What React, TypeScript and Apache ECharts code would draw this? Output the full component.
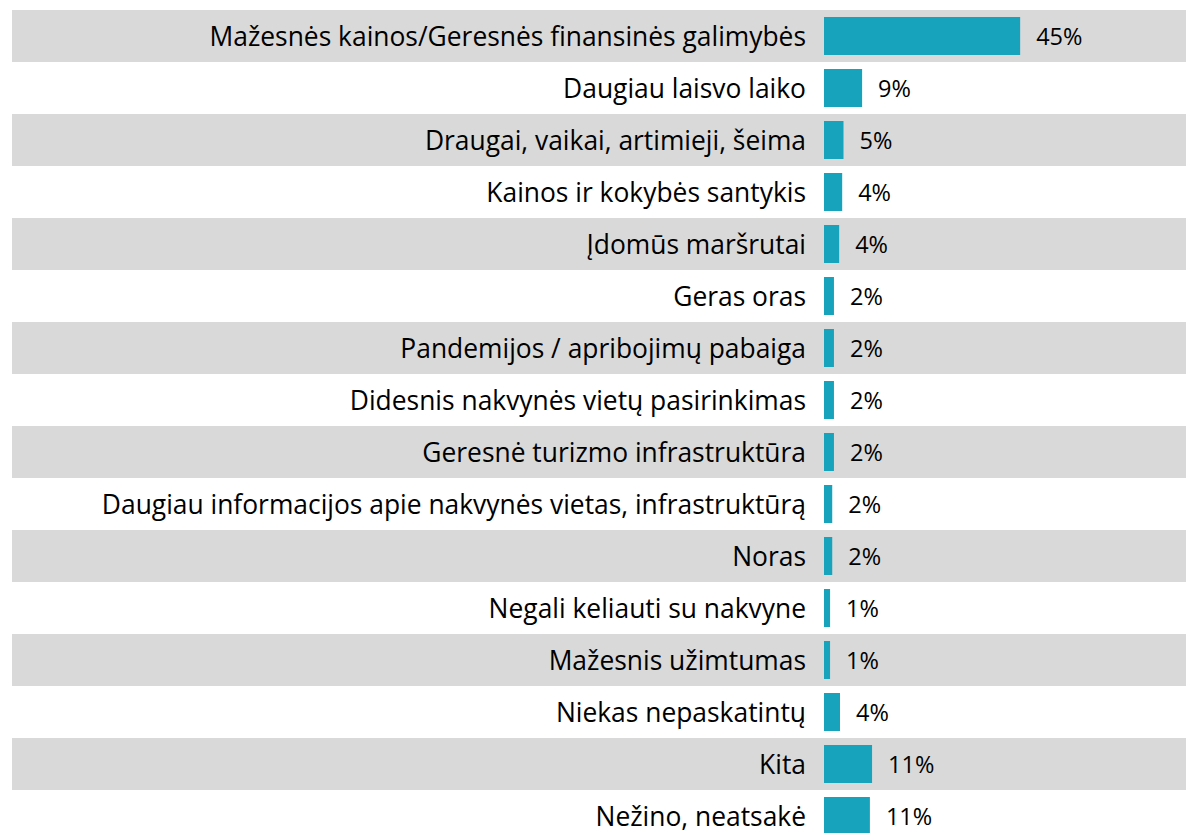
import React, { useEffect, useRef } from "react";
import * as echarts from "echarts";

const categories = [
  "Mažesnės kainos/Geresnės finansinės galimybės",
  "Daugiau laisvo laiko",
  "Draugai, vaikai, artimieji, šeima",
  "Kainos ir kokybės santykis",
  "Įdomūs maršrutai",
  "Geras oras",
  "Pandemijos / apribojimų pabaiga",
  "Didesnis nakvynės vietų pasirinkimas",
  "Geresnė turizmo infrastruktūra",
  "Daugiau informacijos apie nakvynės vietas, infrastruktūrą",
  "Noras",
  "Negali keliauti su nakvyne",
  "Mažesnis užimtumas",
  "Niekas nepaskatintų",
  "Kita",
  "Nežino, neatsakė",
];

const values = [45.3, 8.8, 4.5, 4.2, 3.5, 2.3, 2.3, 2.3, 2.3, 1.9, 1.9, 1.4, 1.4, 3.7, 11.1, 10.6];
const valueLabels = ["45%", "9%", "5%", "4%", "4%", "2%", "2%", "2%", "2%", "2%", "2%", "1%", "1%", "4%", "11%", "11%"];

const FONT = "Open Sans";

export default function App() {
  const ref = useRef<HTMLDivElement>(null);
  useEffect(() => {
    if (!ref.current) return;
    const chart = echarts.init(ref.current, undefined, { renderer: "svg" });
    const pxPerPct = 4.33;
    const gridLeft = 12;
    const zeroX = 824;
    const width = 1186;
    chart.setOption({
      animation: false,
      backgroundColor: "#ffffff",
      grid: { left: gridLeft, right: 0, top: 10, height: 52 * categories.length },
      xAxis: {
        type: "value",
        min: -(zeroX - gridLeft) / pxPerPct,
        max: (width - zeroX) / pxPerPct,
        show: false,
      },
      yAxis: {
        type: "category",
        data: categories,
        inverse: true,
        offset: -(zeroX - gridLeft),
        axisLine: { show: false },
        axisTick: { show: false },
        axisLabel: {
          margin: 18,
          color: "#000000",
          fontFamily: FONT,
          fontSize: 26.4,
          lineHeight: 22,
        },
        splitLine: { show: false },
        splitArea: { show: true, areaStyle: { color: ["#d9d9d9", "rgba(255,255,255,0)"] } },
      },
      series: [
        {
          type: "bar",
          data: values,
          barWidth: 38,
          itemStyle: { color: "#16a3bb" },
          label: {
            show: true,
            position: "right",
            distance: 16,
            color: "#000000",
            fontFamily: FONT,
            fontSize: 23.5,
            lineHeight: 20,
            formatter: (p: any) => valueLabels[p.dataIndex],
          },
        },
      ],
    });
    return () => chart.dispose();
  }, []);
  return (
    <div style={{ position: "fixed", left: 0, top: 0, width: 1186, height: 833, overflow: "hidden" }}>
      <div ref={ref} style={{ width: 1186, height: 860 }} />
    </div>
  );
}
